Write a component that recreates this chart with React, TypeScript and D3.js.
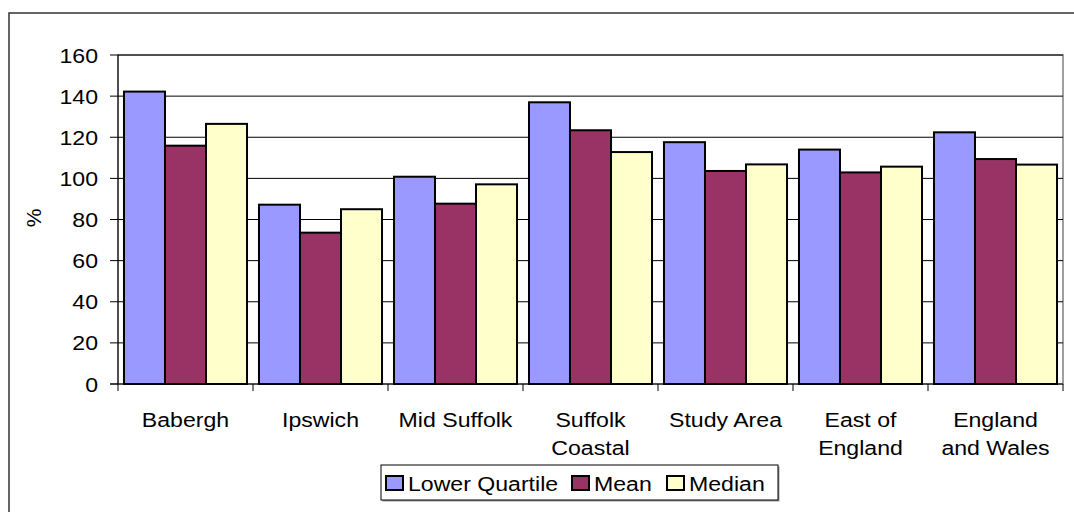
import * as d3 from "d3";

const categories = [
  "Babergh",
  "Ipswich",
  "Mid Suffolk",
  "Suffolk Coastal",
  "Study Area",
  "East of England",
  "England and Wales",
];
// label lines as drawn under the axis
const categoryLines = [
  ["Babergh"],
  ["Ipswich"],
  ["Mid Suffolk"],
  ["Suffolk", "Coastal"],
  ["Study Area"],
  ["East of", "England"],
  ["England", "and Wales"],
];
const seriesNames = ["Lower Quartile", "Mean", "Median"];
const lowerQuartile = [142.2, 87.2, 100.8, 137.0, 117.6, 114.0, 122.4];
const mean = [115.9, 73.6, 87.7, 123.4, 103.6, 102.9, 109.4];
const median = [126.5, 85.0, 97.1, 112.8, 106.8, 105.7, 106.7];
const yTicks = [0, 20, 40, 60, 80, 100, 120, 140, 160];

const colors = ["#9999FF", "#993366", "#FFFFCC"];
const FONT = "'Liberation Sans', Arial, sans-serif";
const FS = 21;
const SX = 1.1; // the original picture is stretched a little sideways

function Label({ x, y, anchor = "start", children }: any) {
  return (
    <g transform={`translate(${x},${y}) scale(${SX},1)`}>
      <text textAnchor={anchor} fontFamily={FONT} fontSize={FS} fill="#000">
        {children}
      </text>
    </g>
  );
}

export default function App() {
  const width = 1074;
  const height = 512;
  const plot = { left: 118, right: 1063, top: 55, bottom: 384 };

  const x0 = d3
    .scaleBand<string>()
    .domain(categories)
    .range([plot.left, plot.right])
    .padding(0);
  const x1 = d3
    .scaleBand<string>()
    .domain(seriesNames)
    .range([0, x0.bandwidth()])
    .paddingInner(0)
    .paddingOuter(0.146);
  const y = d3.scaleLinear().domain([0, 160]).range([plot.bottom, plot.top]);

  const seriesValues = [lowerQuartile, mean, median];

  // legend layout
  const legend = { x: 381, y: 465, w: 397, h: 35 };
  const legendItems = [
    { sw: 386, tx: 408 },
    { sw: 572, tx: 594 },
    { sw: 667, tx: 689 },
  ];

  return (
    <svg
      width={width}
      height={height}
      style={{ position: "absolute", left: 0, top: 0, background: "#fff" }}
    >
      {/* chart frame */}
      <rect x={9} y={13} width={1200} height={600} fill="none" stroke="#333" strokeWidth={1.5} />

      {/* plot area border */}
      <rect
        x={plot.left}
        y={plot.top}
        width={plot.right - plot.left}
        height={plot.bottom - plot.top}
        fill="none"
        stroke="#808080"
        strokeWidth={1.5}
      />

      {/* gridlines */}
      {yTicks.slice(1).map((t) => (
        <line key={t} x1={plot.left} x2={plot.right} y1={y(t)} y2={y(t)} stroke="#000" strokeWidth={1} />
      ))}

      {/* bars */}
      {categories.map((c, i) => (
        <g key={c} transform={`translate(${x0(c)},0)`}>
          {seriesNames.map((s, j) => (
            <rect
              key={s}
              x={x1(s)}
              y={y(seriesValues[j][i])}
              width={x1.bandwidth()}
              height={y(0) - y(seriesValues[j][i])}
              fill={colors[j]}
              stroke="#000"
              strokeWidth={2}
            />
          ))}
        </g>
      ))}

      {/* y axis */}
      <line x1={plot.left} x2={plot.left} y1={plot.top} y2={plot.bottom} stroke="#000" strokeWidth={1} />
      {yTicks.map((t) => (
        <g key={t}>
          <line x1={plot.left - 8} x2={plot.left} y1={y(t)} y2={y(t)} stroke="#000" />
          <Label x={98} y={y(t) + 7.5} anchor="end">
            {t}
          </Label>
        </g>
      ))}
      <g transform={`translate(41,218) rotate(-90)`}>
        <text textAnchor="middle" fontFamily={FONT} fontSize={FS}>
          %
        </text>
      </g>

      {/* x axis */}
      <line x1={plot.left - 8} x2={plot.right} y1={plot.bottom} y2={plot.bottom} stroke="#000" strokeWidth={1} />
      {categories.map((c) => (
        <line key={c} x1={x0(c)} x2={x0(c)} y1={plot.bottom} y2={plot.bottom + 7} stroke="#000" />
      ))}
      <line x1={plot.right} x2={plot.right} y1={plot.bottom} y2={plot.bottom + 7} stroke="#000" />
      {categories.map((c, i) =>
        categoryLines[i].map((line, k) => (
          <Label key={c + k} x={(x0(c) as number) + x0.bandwidth() / 2} y={427 + k * 28} anchor="middle">
            {line}
          </Label>
        ))
      )}

      {/* legend */}
      <rect x={legend.x + 1.5} y={legend.y + 1.5} width={legend.w} height={legend.h} fill="#999" />
      <rect x={legend.x} y={legend.y} width={legend.w} height={legend.h} fill="#fff" stroke="#000" strokeWidth={1} />
      {seriesNames.map((s, j) => (
        <g key={s}>
          <rect x={legendItems[j].sw} y={476} width={17} height={14} fill={colors[j]} stroke="#000" strokeWidth={2} />
          <Label x={legendItems[j].tx} y={491}>
            {s}
          </Label>
        </g>
      ))}
    </svg>
  );
}
